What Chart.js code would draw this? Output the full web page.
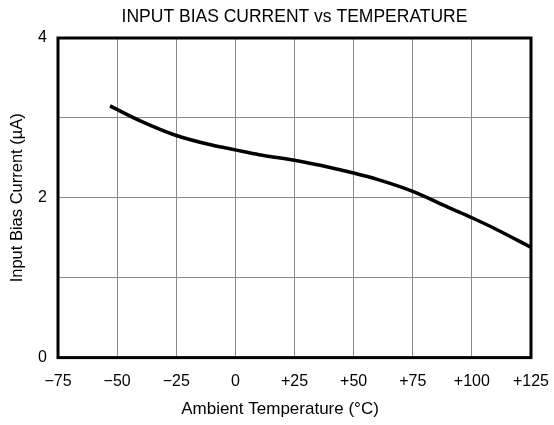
<!DOCTYPE html>
<html>
<head>
<meta charset="utf-8">
<script src="https://cdn.jsdelivr.net/npm/chart.js@4"></script>
<style>
  html, body { margin: 0; padding: 0; background: #fff; }
  #chart { display: block; }
</style>
</head>
<body>
<canvas id="chart" width="554" height="425"></canvas>
<script>
// Curve (temperature in °C, current in µA)
const temps = [-53, -40, -25, -10, 0, 10, 25, 40, 50, 60, 75, 90, 100, 110, 125];
const biasCurrent = [3.15, 2.96, 2.78, 2.66, 2.60, 2.54, 2.47, 2.38, 2.31, 2.23, 2.08, 1.88, 1.75, 1.61, 1.38];

// Axis tick labels
const xTickLabels = { '-75': '\u221275', '-50': '\u221250', '-25': '\u221225', '0': '0',
  '25': '+25', '50': '+50', '75': '+75', '100': '+100', '125': '+125' };
const yTickLabels = { '0': '0', '2': '2', '4': '4' };

const FONT = "'Liberation Sans', Arial, sans-serif";
Chart.defaults.color = '#000';
Chart.defaults.font.family = FONT;

// Thick black frame around the plot area
const frame = {
  id: 'frame',
  afterDatasetsDraw(chart) {
    const { ctx, chartArea: a } = chart;
    ctx.save();
    ctx.strokeStyle = '#000';
    ctx.lineWidth = 3;
    ctx.strokeRect(a.left, a.top, a.right - a.left, a.bottom - a.top);
    ctx.restore();
  },
};

new Chart(document.getElementById('chart'), {
  type: 'line',
  data: {
    datasets: [{
      data: temps.map((t, i) => ({ x: t, y: biasCurrent[i] })),
      borderColor: '#000',
      borderWidth: 3.5,
      pointRadius: 0,
      cubicInterpolationMode: 'monotone',
      fill: false,
    }],
  },
  options: {
    responsive: false,
    animation: false,
    layout: { padding: { left: 6, right: 0, top: 0, bottom: 0 } },
    plugins: {
      legend: { display: false },
      tooltip: { enabled: false },
      // x-axis caption, centred a little left of the plot like the reference
      subtitle: {
        display: true,
        position: 'bottom',
        text: 'Ambient Temperature (°C)',
        font: { size: 17, weight: 'normal', family: FONT },
        padding: { top: 0, bottom: 5 },
        color: '#000',
      },
    },
    scales: {
      x: {
        type: 'linear',
        min: -75,
        max: 125,
        afterFit: (s) => { s.height = 42; s.paddingLeft = 0; s.paddingRight = 0; },
        ticks: {
          stepSize: 25,
          autoSkip: false,
          maxRotation: 0,
          padding: 14,
          font: { size: 16 },
          callback: (v) => xTickLabels[v] ?? '',
        },
        grid: { color: '#8a8a8a', lineWidth: 1, drawTicks: false },
        border: { display: false },
      },
      // top axis only carries the chart title, centred over the plot area
      xTop: {
        type: 'linear',
        position: 'top',
        min: -75,
        max: 125,
        afterFit: (s) => { s.height = 38; s.paddingLeft = 0; s.paddingRight = 0; },
        ticks: { display: false },
        grid: { display: false },
        border: { display: false },
        title: {
          display: true,
          text: 'INPUT BIAS CURRENT vs TEMPERATURE',
          font: { size: 17.5 },
          padding: { top: 7, bottom: 8 },
        },
      },
      y: {
        min: 0,
        max: 4,
        afterFit: (s) => { s.width = 52; },
        ticks: {
          stepSize: 1,
          padding: 11,
          font: { size: 16 },
          callback: (v) => yTickLabels[v] ?? '',
        },
        grid: { color: '#8a8a8a', lineWidth: 1, drawTicks: false },
        border: { display: false },
        title: {
          display: true,
          text: 'Input Bias Current (\u00b5A)',
          font: { size: 16.5 },
          padding: { top: 2 },
        },
      },
      // empty right axis that only reserves the right margin
      yRight: {
        position: 'right',
        min: 0,
        max: 4,
        afterFit: (s) => { s.width = 23; },
        ticks: { display: false },
        grid: { display: false },
        border: { display: false },
      },
    },
  },
  plugins: [frame],
});
</script>
</body>
</html>
